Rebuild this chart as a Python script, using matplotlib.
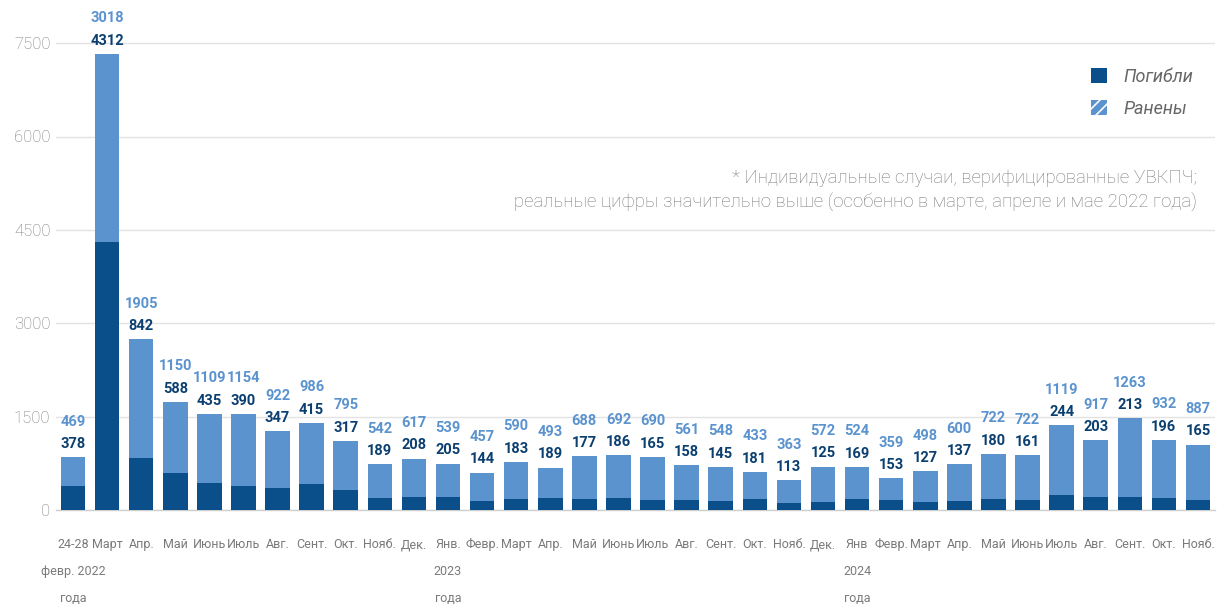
import matplotlib
matplotlib.use("Agg")
import matplotlib.pyplot as plt
from matplotlib.patches import Patch
import numpy as np

plt.rcParams['hatch.linewidth'] = 1.2

months = ["24-28\nфевр. 2022\nгода", "Март", "Апр.", "Май", "Июнь", "Июль", "Авг.", "Сент.",
          "Окт.", "Нояб.", "Дек.", "Янв.\n2023\nгода", "Февр.", "Март", "Апр.", "Май", "Июнь",
          "Июль", "Авг.", "Сент.", "Окт.", "Нояб.", "Дек.", "Янв\n2024\nгода", "Февр.", "Март",
          "Апр.", "Май", "Июнь", "Июль", "Авг.", "Сент.", "Окт.", "Нояб."]
killed = [378, 4312, 842, 588, 435, 390, 347, 415, 317, 189, 208, 205, 144, 183, 189, 177, 186,
          165, 158, 145, 181, 113, 125, 169, 153, 127, 137, 180, 161, 244, 203, 213, 196, 165]
injured = [469, 3018, 1905, 1150, 1109, 1154, 922, 986, 795, 542, 617, 539, 457, 590, 493, 688,
           692, 690, 561, 548, 433, 363, 572, 524, 359, 498, 600, 722, 722, 1119, 917, 1263, 932, 887]
yticks = [0, 1500, 3000, 4500, 6000, 7500]

DARK = "#0b4f8a"
LIGHT = "#5b93cf"
LABEL_DARK = "#0a3f70"
GRAY = "#7a7a7a"
FONT = ["Roboto", "DejaVu Sans"]

fig = plt.figure(figsize=(12.27, 6.05), dpi=100)
ax = fig.add_axes([56/1227, (605-510)/605, (1215-56)/1227, (510-12)/605])

x = np.arange(len(months))
k = np.array(killed)
inj = np.array(injured)
ax.bar(x, k, width=0.72, color=DARK, zorder=3)
ax.bar(x, inj, width=0.72, bottom=k, color=LIGHT, zorder=3)

for xi, kv, iv in zip(x, k, inj):
    top = kv + iv
    ax.annotate(str(kv), (xi, top), xytext=(0, 9.5), textcoords="offset points",
                ha="center", va="center", fontsize=10.5, fontweight="bold",
                color=LABEL_DARK, family=FONT, zorder=4)
    ax.annotate(str(iv), (xi, top), xytext=(0, 25.5), textcoords="offset points",
                ha="center", va="center", fontsize=10.5, fontweight="bold",
                color=LIGHT, family=FONT, zorder=4)

ax.set_xlim(-0.5, len(months) - 0.5)
ax.set_ylim(0, 8000)
ax.set_yticks(yticks)
ax.set_yticklabels([str(v) for v in yticks], fontsize=12, color=GRAY,
                   family=FONT, fontweight="light")

# first line of each month label as tick label, further lines as text below
first_lines = [m.split("\n")[0] for m in months]
ax.set_xticks(x)
ax.set_xticklabels(first_lines, fontsize=9, color=GRAY, family=FONT)
extra_offsets = [-44.6, -63.4]
for xi, m in zip(x, months):
    for j, line in enumerate(m.split("\n")[1:]):
        ax.annotate(line, xy=(xi, 0), xycoords=("data", "axes fraction"),
                    xytext=(0, extra_offsets[j]), textcoords="offset points",
                    ha="center", va="center", fontsize=9, color=GRAY, family=FONT,
                    annotation_clip=False)

ax.tick_params(axis="x", length=0, pad=20.5)
ax.tick_params(axis="y", length=0, pad=4)
ax.grid(axis="y", color="#e3e3e3", linewidth=1, zorder=0)
for s in ["top", "right", "left"]:
    ax.spines[s].set_visible(False)
ax.spines["bottom"].set_color("#cfcfcf")
ax.spines["bottom"].set_linewidth(1)

ax.text(0.9845, 0.641,
        "* Индивидуальные случаи, верифицированные УВКПЧ;\nреальные цифры значительно выше (особенно в марте, апреле и мае 2022 года)",
        transform=ax.transAxes, ha="right", va="center", fontsize=13.4, color=GRAY,
        linespacing=1.4, family=FONT, fontweight="light")

handles = [Patch(facecolor=DARK, edgecolor=DARK, linewidth=0),
           Patch(facecolor=LIGHT, edgecolor="white", hatch="///", linewidth=0)]
leg = ax.legend(handles, ["Погибли", "Ранены"], loc="upper right",
                bbox_to_anchor=(0.995, 0.92), frameon=False, handlelength=0.88,
                handleheight=0.88, handletextpad=0.9, labelspacing=0.75,
                prop={"family": FONT, "style": "italic", "size": 13})
for t in leg.get_texts():
    t.set_color("#666666")

fig.savefig("out.png", dpi=100)
